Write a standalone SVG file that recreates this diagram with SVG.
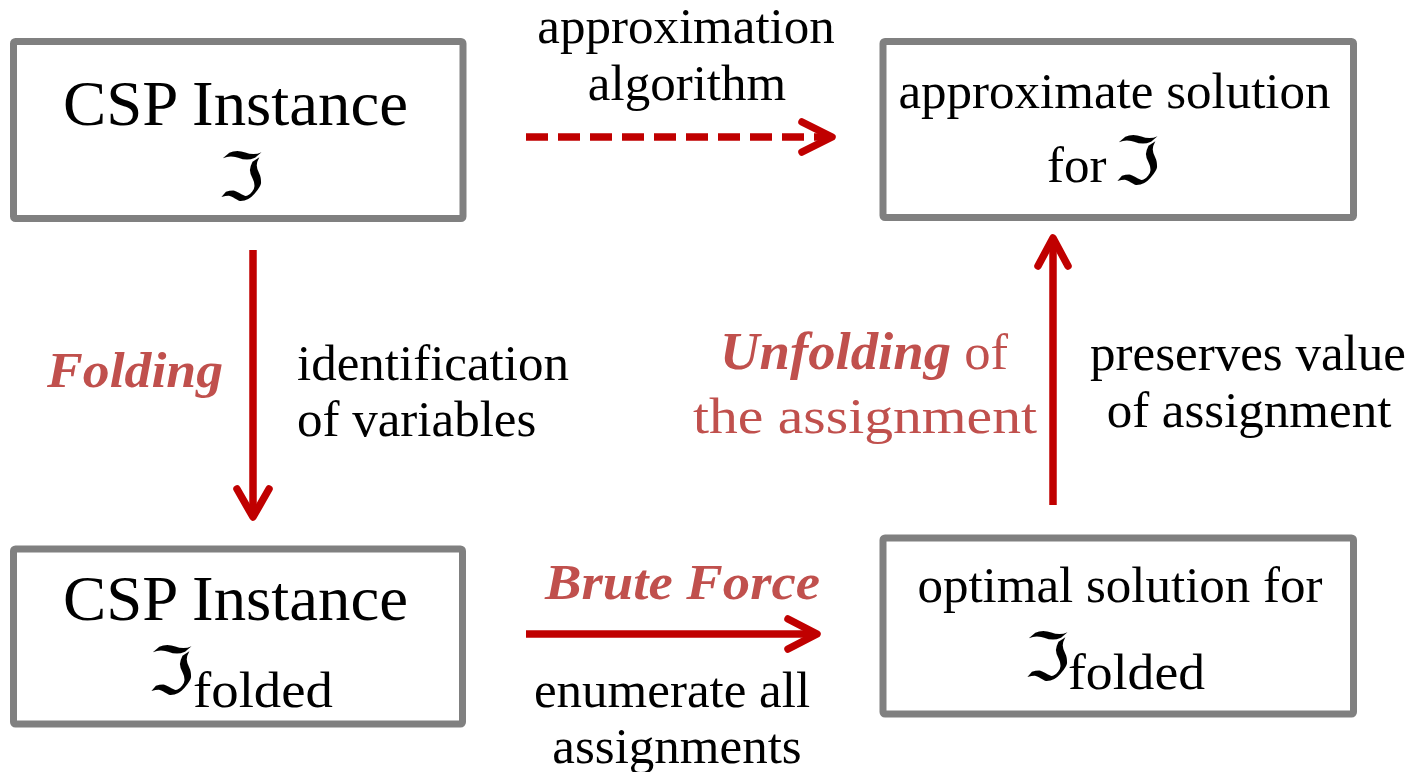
<svg xmlns="http://www.w3.org/2000/svg" width="1418" height="772" viewBox="0 0 1418 772">
<style>
.box{fill:#fff;stroke:#808080;stroke-width:7}
.t{font-family:"Liberation Serif",serif;font-size:51px;fill:#000}
.big{font-size:64px}
.red{fill:#C0504D}
.bi{font-weight:bold;font-style:italic}
.frak{font-family:"DejaVu Serif","DejaVu Sans",serif;font-size:66px}
.ln{stroke:#C00000;stroke-width:7.5;fill:none}
.hd{stroke:#C00000;stroke-width:7.5;fill:none;stroke-linecap:round;stroke-linejoin:round}
</style>
<rect width="1418" height="772" fill="#fff"/>
<g id="connectors">
  <line class="ln" x1="526" y1="137" x2="828" y2="137" stroke-dasharray="22 10"/>
  <polyline class="hd" points="802,122 832,137 802,152"/>
  <line class="ln" x1="253" y1="250" x2="253" y2="514"/>
  <polyline class="hd" points="237,489 253,517 269,489"/>
  <line class="ln" x1="526" y1="634" x2="814" y2="634"/>
  <polyline class="hd" points="788,619 817,634 788,649"/>
  <line class="ln" x1="1053" y1="505" x2="1053" y2="240"/>
  <polyline class="hd" points="1038,266 1053,238 1068,266"/>
</g>
<g id="n1">
  <rect class="box" x="13.5" y="41.5" width="449.5" height="177" rx="2"/>
  <text class="t big" x="235.5" y="125" text-anchor="middle" textLength="345" lengthAdjust="spacingAndGlyphs">CSP Instance</text>
  <text class="t frak" x="241" y="200" text-anchor="middle">ℑ</text>
</g>
<g id="n2">
  <rect class="box" x="883" y="41.5" width="470.5" height="176" rx="2"/>
  <text class="t" x="1114.5" y="108" text-anchor="middle">approximate solution</text>
  <text class="t" x="1047" y="182">for</text>
  <text class="t frak" x="1137" y="184" text-anchor="middle">ℑ</text>
</g>
<g id="n3">
  <rect class="box" x="13.5" y="549" width="449" height="175" rx="2"/>
  <text class="t big" x="235.5" y="620" text-anchor="middle" textLength="345" lengthAdjust="spacingAndGlyphs">CSP Instance</text>
  <text class="t frak" x="171" y="694" text-anchor="middle">ℑ</text>
  <text class="t" x="193" y="707" font-size="50" textLength="140" lengthAdjust="spacingAndGlyphs">folded</text>
</g>
<g id="n4">
  <rect class="box" x="883" y="538" width="470.5" height="176" rx="2"/>
  <text class="t" x="1120" y="602" text-anchor="middle">optimal solution for</text>
  <text class="t frak" x="1047" y="680" text-anchor="middle">ℑ</text>
  <text class="t" x="1068" y="689" font-size="50" textLength="137" lengthAdjust="spacingAndGlyphs">folded</text>
</g>
<g id="labels">
  <text class="t" x="686" y="43" text-anchor="middle">approximation</text>
  <text class="t" x="687" y="100" text-anchor="middle">algorithm</text>
  <text class="t red bi" x="135" y="387" text-anchor="middle" font-size="53" textLength="176" lengthAdjust="spacingAndGlyphs">Folding</text>
  <text class="t" x="297" y="380">identification</text>
  <text class="t" x="297" y="436">of variables</text>
  <text class="t red" x="864" y="369" text-anchor="middle" textLength="288" lengthAdjust="spacingAndGlyphs"><tspan class="bi" font-size="53">Unfolding</tspan> of</text>
  <text class="t red" x="865" y="433" text-anchor="middle" textLength="344" lengthAdjust="spacingAndGlyphs">the assignment</text>
  <text class="t" x="1248" y="370" text-anchor="middle">preserves value</text>
  <text class="t" x="1249" y="427" text-anchor="middle">of assignment</text>
  <text class="t red bi" x="682.5" y="599" text-anchor="middle" font-size="53" textLength="275" lengthAdjust="spacingAndGlyphs">Brute Force</text>
  <text class="t" x="672" y="707" text-anchor="middle">enumerate all</text>
  <text class="t" x="677" y="763" text-anchor="middle">assignments</text>
</g>
</svg>
